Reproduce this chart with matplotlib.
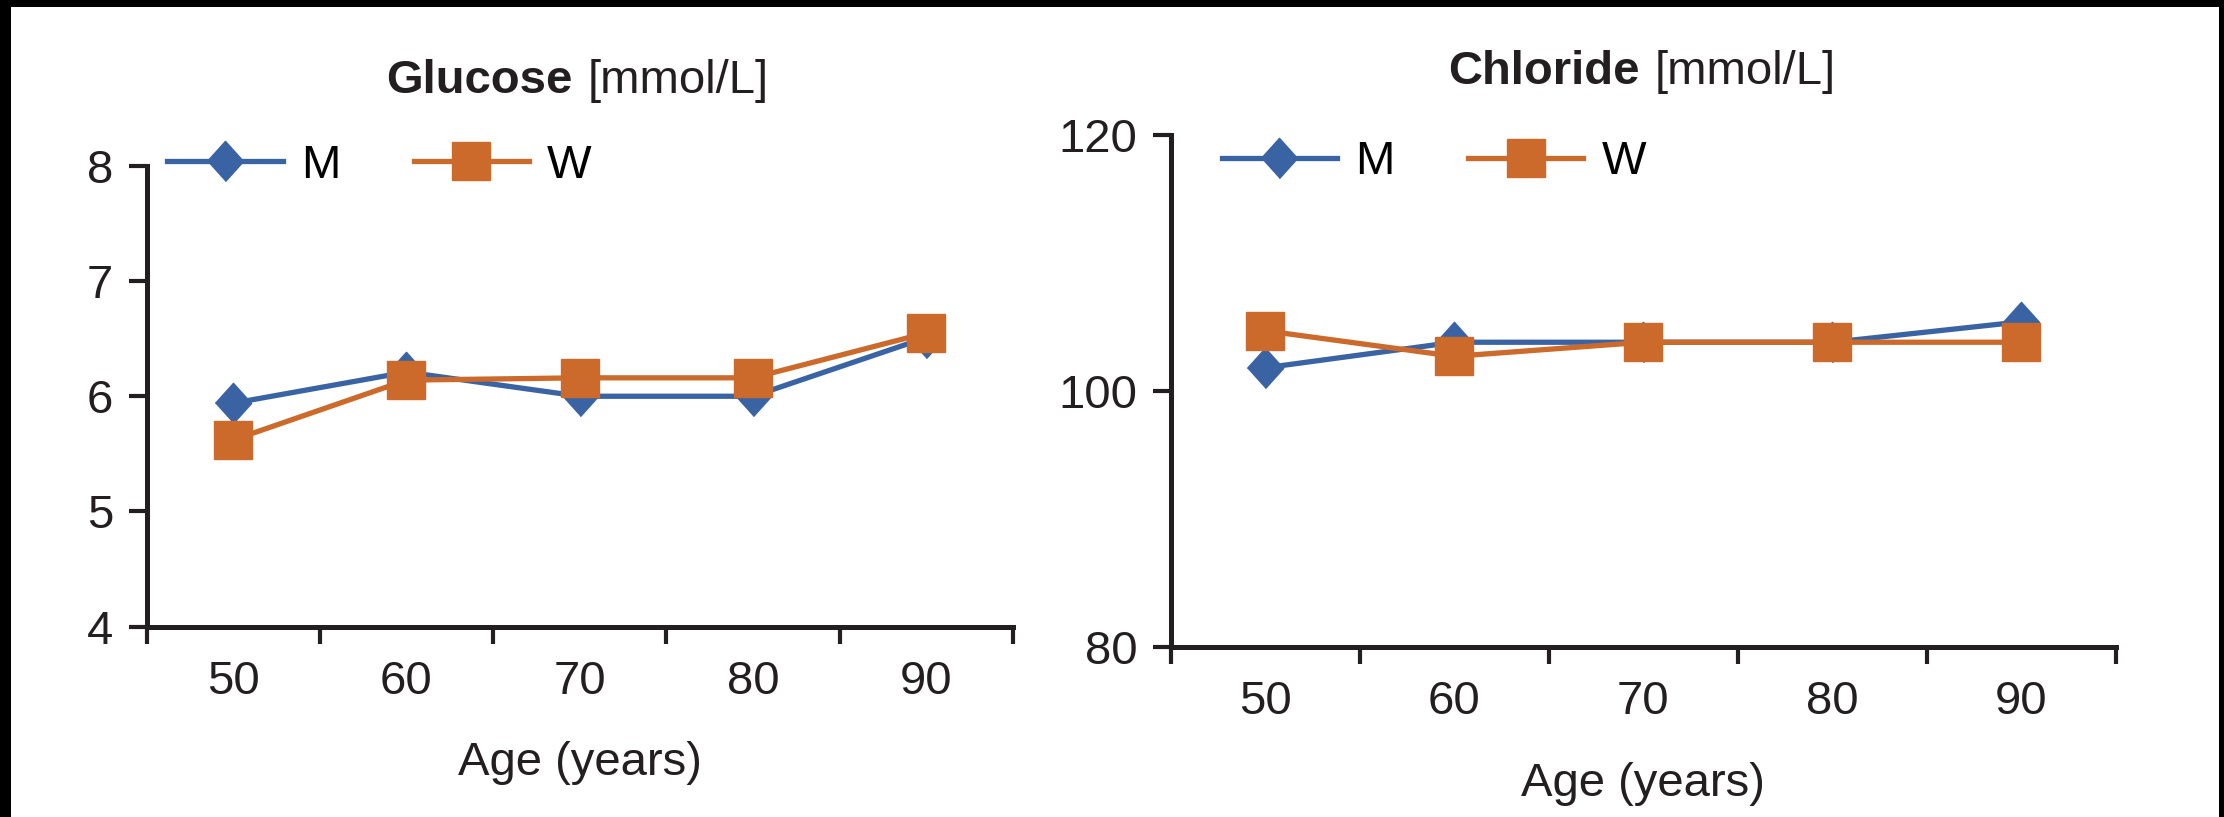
from matplotlib import pyplot as plt
from matplotlib import font_manager
from matplotlib.patches import Rectangle

ages = ['50', '60', '70', '80', '90']

glucose_m = [5.94, 6.21, 6.0, 6.0, 6.51]
glucose_w = [5.62, 6.14, 6.16, 6.16, 6.55]
glucose_ticks = [4, 5, 6, 7, 8]

chloride_m = [101.8, 103.8, 103.8, 103.8, 105.4]
chloride_w = [104.7, 102.7, 103.8, 103.8, 103.8]
chloride_ticks = [80, 100, 120]

blue = '#3a63a4'
orange = '#cc6a2c'
ink = '#231f20'

plt.rcParams['font.family'] = 'Liberation Sans'
fs = 34

W, H = 2224, 817
fig = plt.figure(figsize=(W / 100, H / 100), dpi=100, facecolor='black')
# white page inside the black frame
fig.patches.append(Rectangle((11 / W, 0), (2219 - 11) / W, (810) / H,
                             transform=fig.transFigure, facecolor='white',
                             edgecolor='none', zorder=-1))

diamond = [(-0.9, 0), (0, 1), (0.9, 0), (0, -1)]


def panel(rect, m, w, yticks, bold, unit, split, title_y, xlabel_y, leg_pos):
    ax = fig.add_axes([rect[0] / W, 1 - rect[3] / H,
                       (rect[2] - rect[0]) / W, (rect[3] - rect[1]) / H])
    ax.set_facecolor('none')
    xs = list(range(len(ages)))
    ax.plot(xs, m, color=blue, lw=3.8, marker=diamond, ms=29,
            label='M', zorder=3)
    ax.plot(xs, w, color=orange, lw=3.8, marker='s', ms=28,
            label='W', zorder=4)
    ax.set_xlim(-0.5, len(ages) - 0.5)
    ax.set_ylim(yticks[0], yticks[-1])
    ax.set_yticks(yticks)
    ax.set_yticklabels([str(t) for t in yticks])
    # category labels centred, tick marks on the boundaries
    ax.set_xticks(xs)
    ax.set_xticklabels(ages)
    ax.set_xticks([x - 0.5 for x in range(len(ages) + 1)], minor=True)
    ax.tick_params(axis='x', which='major', length=0, pad=24,
                   labelsize=fs, colors=ink)
    ax.tick_params(axis='x', which='minor', length=12, width=3,
                   direction='out', color=ink)
    ax.tick_params(axis='y', length=13, width=3, pad=11,
                   labelsize=fs, colors=ink)
    for s in ['top', 'right']:
        ax.spines[s].set_visible(False)
    for s in ['left', 'bottom']:
        ax.spines[s].set_linewidth(3.6)
        ax.spines[s].set_color(ink)
    ax.legend(loc='center left', bbox_to_anchor=leg_pos, ncol=2,
              frameon=False, fontsize=fs, numpoints=1, borderpad=0,
              borderaxespad=0, handlelength=2.45, handletextpad=0.38,
              columnspacing=1.55)
    # title: bold name + regular unit
    fig.text(split[0] / W, 1 - title_y / H, bold, ha='right',
             va='baseline', fontsize=fs, fontweight='bold', color=ink)
    fig.text(split[1] / W, 1 - title_y / H, unit, ha='left',
             va='baseline', fontsize=fs, color=ink)
    cx = (rect[0] + rect[2]) / 2
    fig.text(cx / W, 1 - xlabel_y / H, 'Age (years)', ha='center',
             va='baseline', fontsize=fs, color=ink)
    return ax


panel((146.5, 166, 1013, 626.5), glucose_m, glucose_w, glucose_ticks,
      'Glucose', '[mmol/L]', (573, 588), 93, 775, (0.024, 1.0))
panel((1170.5, 135, 2116, 646.7), chloride_m, chloride_w, chloride_ticks,
      'Chloride', '[mmol/L]', (1640, 1655), 84, 796, (0.054, 0.947))

fig.savefig('out.png', dpi=100, facecolor=fig.get_facecolor())
